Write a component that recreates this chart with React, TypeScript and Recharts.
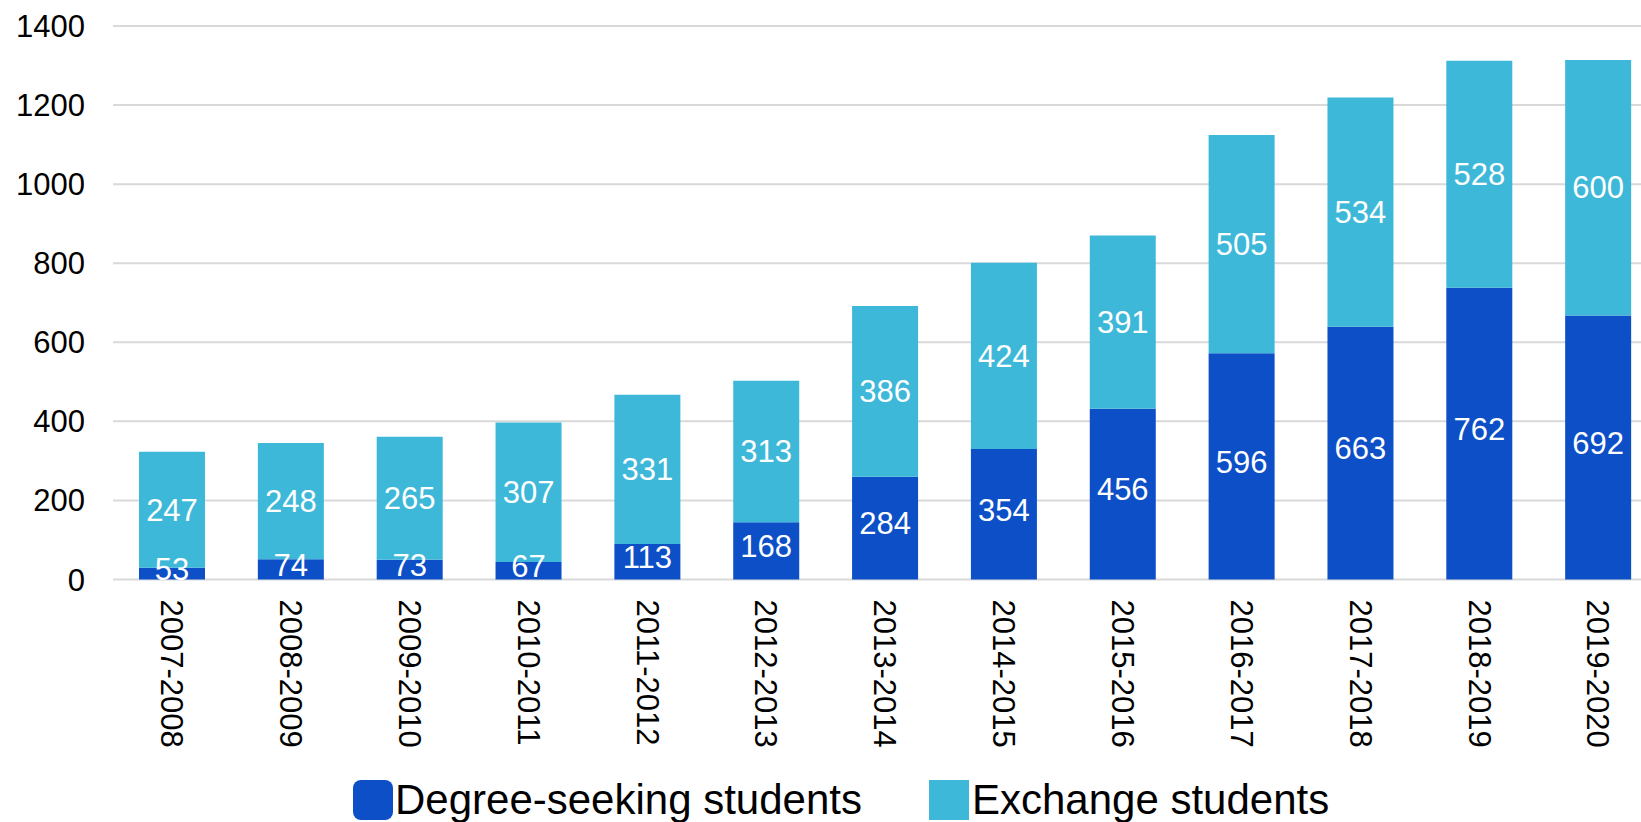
import { BarChart, Bar, XAxis, YAxis, CartesianGrid, LabelList, Legend } from 'recharts';

const years = [
  '2007-2008', '2008-2009', '2009-2010', '2010-2011', '2011-2012', '2012-2013', '2013-2014',
  '2014-2015', '2015-2016', '2016-2017', '2017-2018', '2018-2019', '2019-2020',
];

// numbers printed on the bars
const degreeLabels = [53, 74, 73, 67, 113, 168, 284, 354, 456, 596, 663, 762, 692];
const exchangeLabels = [247, 248, 265, 307, 331, 313, 386, 424, 391, 505, 534, 528, 600];

// bar segment heights as drawn in the picture (they don't quite agree with the printed numbers)
const degreeBars = [30, 51, 50, 44, 90, 145, 260, 330, 432, 572, 639, 738, 668];
const exchangeBars = [293, 294, 311, 353, 377, 358, 432, 471, 438, 552, 580, 574, 646];

const yTicks = [0, 200, 400, 600, 800, 1000, 1200, 1400];
const seriesNames = ['Degree-seeking students', 'Exchange students'];

const FONT = '"Liberation Sans", Arial, Helvetica, sans-serif';
const DEGREE_COLOR = '#0c4fc7';
const EXCHANGE_COLOR = '#3eb8d9';

const data = years.map((year, i) => ({
  year,
  degreeBar: degreeBars[i],
  exchangeBar: exchangeBars[i],
  degree: degreeLabels[i],
  exchange: exchangeLabels[i],
}));

const YearTick = ({ x, y, payload }: any) => (
  <text
    x={x}
    y={y}
    dy="0.36em"
    transform={`rotate(90 ${x} ${y})`}
    textAnchor="start"
    fontSize={31}
    fontFamily={FONT}
    fill="#000"
  >
    {payload.value}
  </text>
);

const LegendBox = () => (
  <div
    style={{
      display: 'flex',
      alignItems: 'center',
      fontFamily: FONT,
      fontSize: 42,
      lineHeight: '42px',
      color: '#000',
      whiteSpace: 'nowrap',
    }}
  >
    <span style={{ display: 'inline-block', width: 40, height: 40, background: DEGREE_COLOR, borderRadius: 8, marginRight: 2 }} />
    <span>{seriesNames[0]}</span>
    <span style={{ display: 'inline-block', width: 40, height: 40, background: EXCHANGE_COLOR, marginLeft: 67, marginRight: 3 }} />
    <span>{seriesNames[1]}</span>
  </div>
);

export default function App() {
  return (
    <div style={{ position: 'absolute', left: 0, top: 0, width: 1641, height: 822, overflow: 'hidden', background: '#fff' }}>
      <BarChart
        width={1660}
        height={822}
        data={data}
        margin={{ top: 26, right: 2, left: 0, bottom: 42.5 }}
        barSize={66}
      >
        <CartesianGrid vertical={false} stroke="#d9d9d9" strokeWidth={2} />
        <XAxis
          dataKey="year"
          axisLine={false}
          tickLine={false}
          tickSize={0}
          tickMargin={20}
          height={200}
          interval={0}
          tick={<YearTick />}
        />
        <XAxis xAxisId="lbl" dataKey="year" hide />
        <YAxis
          domain={[0, 1400]}
          ticks={yTicks}
          axisLine={false}
          tickLine={false}
          tickSize={0}
          tickMargin={28}
          width={113}
          tick={{ fontSize: 31, fill: '#000', fontFamily: FONT }}
        />
        <Legend
          layout="horizontal"
          verticalAlign="middle"
          align="center"
          wrapperStyle={{ left: 353, top: 779, width: 1100, height: 42 }}
          content={() => <LegendBox />}
        />

        <Bar dataKey="degreeBar" stackId="drawn" fill={DEGREE_COLOR} isAnimationActive={false} />
        <Bar dataKey="exchangeBar" stackId="drawn" fill={EXCHANGE_COLOR} isAnimationActive={false} />

        {/* transparent bars on a hidden axis, only to place the printed numbers */}
        <Bar xAxisId="lbl" dataKey="degree" stackId="lbl" fill="transparent" legendType="none" isAnimationActive={false}>
          <LabelList dataKey="degree" position="center" fill="#ffffff" fontSize={31} fontFamily={FONT} />
        </Bar>
        <Bar xAxisId="lbl" dataKey="exchange" stackId="lbl" fill="transparent" legendType="none" isAnimationActive={false}>
          <LabelList dataKey="exchange" position="center" fill="#ffffff" fontSize={31} fontFamily={FONT} />
        </Bar>
      </BarChart>
    </div>
  );
}
